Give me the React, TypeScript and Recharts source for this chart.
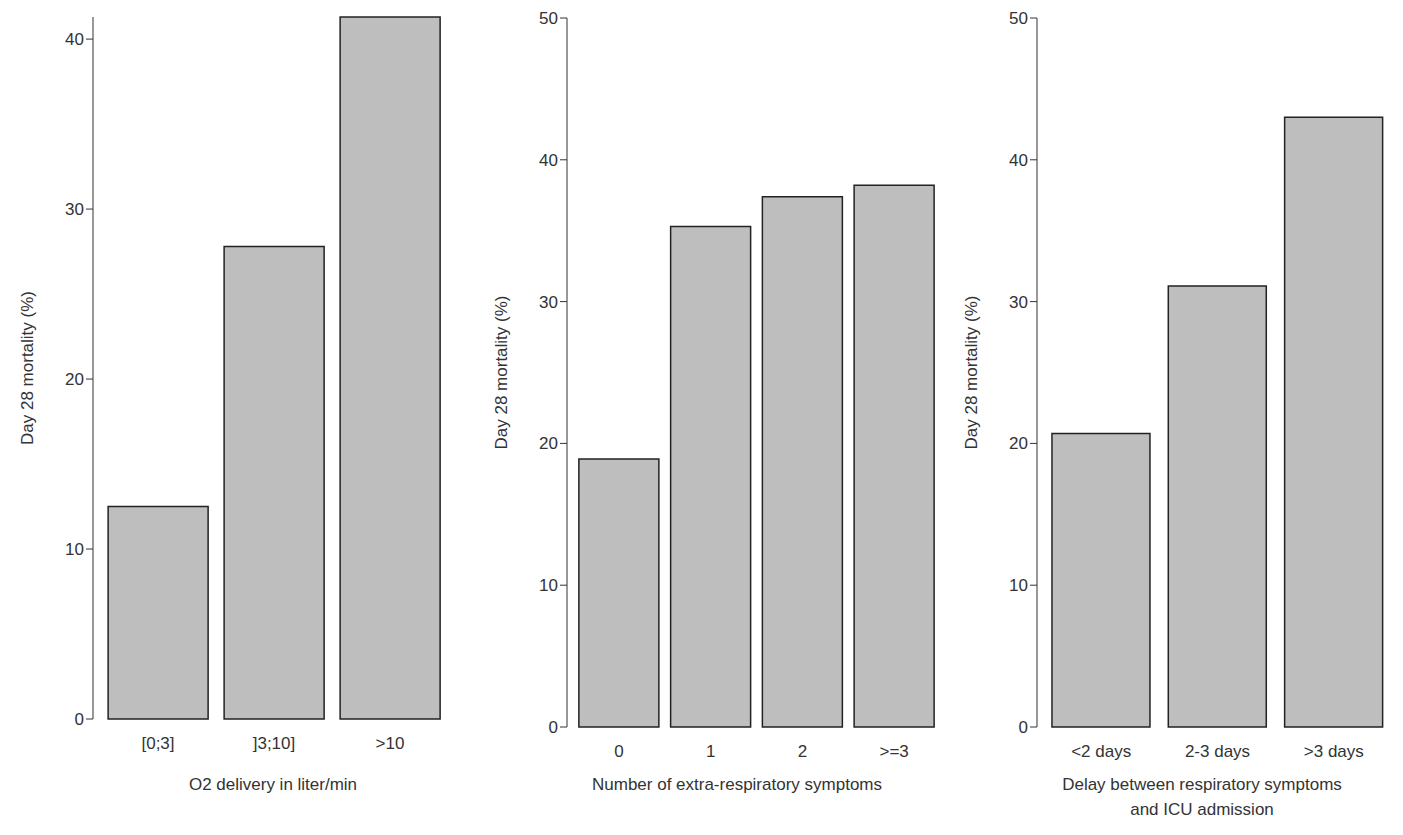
import React from "react";
import { BarChart, Bar, XAxis, YAxis } from "recharts";

const o2Categories = ["[0;3]", "]3;10]", ">10"];
const o2Values = [12.5, 27.8, 41.3];
const symCategories = ["0", "1", "2", ">=3"];
const symValues = [18.9, 35.3, 37.4, 38.2];
const delayCategories = ["<2 days", "2-3 days", ">3 days"];
const delayValues = [20.7, 31.1, 43.0];
const ticks40 = [0, 10, 20, 30, 40];
const ticks50 = [0, 10, 20, 30, 40, 50];

const font = "'Liberation Sans', Arial, sans-serif";
const tickStyle = { fontSize: 17, fill: "#333", fontFamily: font };

function Panel(props: any) {
  const { left, top, width, height, mTop, mBottom, cats, vals, domain, ticks, gap, title, titleLeft, titleWidth, padLeft } = props;
  const data = cats.map((c: string, i: number) => ({ c, v: vals[i] }));
  return (
    <div style={{ position: "absolute", left, top }}>
      <BarChart width={width} height={height} data={data} margin={{ top: mTop, right: 5, bottom: 0, left: 0 }} barCategoryGap={gap}>
        <XAxis dataKey="c" axisLine={false} tickLine={false} tick={tickStyle} dy={10} height={mBottom} padding={{ left: padLeft, right: 0 }} interval={0} />
        <YAxis domain={domain} ticks={ticks} width={85} tick={tickStyle} stroke="#333" tickSize={7}
          label={{ value: "Day 28 mortality (%)", angle: -90, position: "insideLeft", offset: 19, style: { fontSize: 17, fill: "#333", fontFamily: font, textAnchor: "middle" } }} />
        <Bar dataKey="v" fill="#bebebe" stroke="#222" strokeWidth={1.5} isAnimationActive={false} />
      </BarChart>
      <div style={{ position: "absolute", left: titleLeft, top: 772, width: titleWidth, textAlign: "center", fontFamily: font, fontSize: 17, color: "#333", lineHeight: "25px" }}>
        {title.map((t: string, i: number) => <div key={i}>{t}</div>)}
      </div>
    </div>
  );
}

export default function App() {
  return (
    <div style={{ position: "relative", width: 1403, height: 835, marginTop: -8, background: "#fff", overflow: "visible" }}>
      <Panel left={0} top={0} width={445} height={835} mTop={17} mBottom={116} cats={o2Categories} vals={o2Values}
        domain={[0, 41.3]} ticks={ticks40} gap="7%" padLeft={7} title={["O2 delivery in liter/min"]} titleLeft={85} titleWidth={360} />
      <Panel left={474} top={0} width={463} height={835} mTop={18} mBottom={108} cats={symCategories} vals={symValues}
        domain={[0, 50]} ticks={ticks50} gap="6.4%" padLeft={6} title={["Number of extra-respiratory symptoms"]} titleLeft={40} titleWidth={430} />
      <Panel left={944} top={0} width={445} height={835} mTop={18} mBottom={108} cats={delayCategories} vals={delayValues}
        domain={[0, 50]} ticks={ticks50} gap="7.7%" padLeft={6} title={["Delay between respiratory symptoms", "and ICU admission"]} titleLeft={40} titleWidth={420} />
    </div>
  );
}
